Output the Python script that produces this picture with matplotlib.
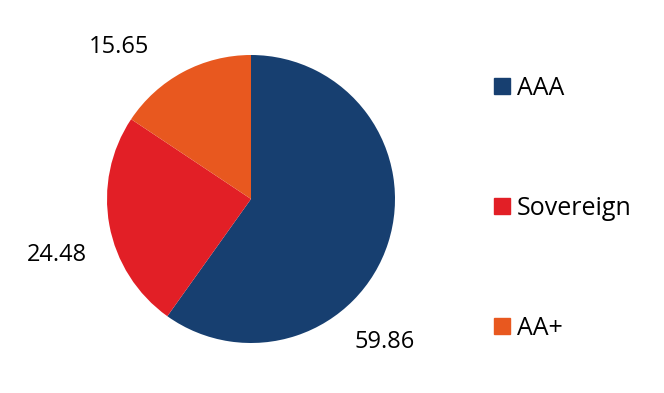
import numpy as np
import matplotlib
matplotlib.use("Agg")
import matplotlib.pyplot as plt
from matplotlib.lines import Line2D

# chart data
categories = ["AAA", "Sovereign", "AA+"]
values = [59.86, 24.48, 15.65]
colors = ["#173F70", "#E21F26", "#E8581F"]

# where the value labels sit (degrees, radius in pie units)
label_angles = [-47, -164, 131]
label_radius = [1.36, 1.40, 1.40]

plt.rcParams['font.family'] = ['Open Sans', 'DejaVu Sans']

fig = plt.figure(figsize=(6.64, 3.93), dpi=100)
ax = fig.add_axes([107 / 664, 50 / 393, 288 / 664, 288 / 393])

wedges, _ = ax.pie(values, colors=colors, startangle=90, counterclock=False,
                   radius=1.0, wedgeprops=dict(linewidth=0))
ax.set_xlim(-1, 1)
ax.set_ylim(-1, 1)
ax.set_aspect('equal')
ax.axis('off')

for v, a, r in zip(values, label_angles, label_radius):
    t = np.deg2rad(a)
    ax.text(r * np.cos(t), r * np.sin(t), f"{v:.2f}", ha='center', va='center',
            fontsize=17, color='black', clip_on=False)

handles = [Line2D([0], [0], marker='s', linestyle='none', markersize=11,
                  markerfacecolor=c, markeredgecolor=c) for c in colors]
fig.legend(handles, categories, loc='center left', bbox_to_anchor=(0.745, 0.47),
           frameon=False, fontsize=18, labelspacing=3.8, handlelength=0.6,
           handletextpad=0.3, borderpad=0, borderaxespad=0)

fig.savefig("out.png", dpi=100)
